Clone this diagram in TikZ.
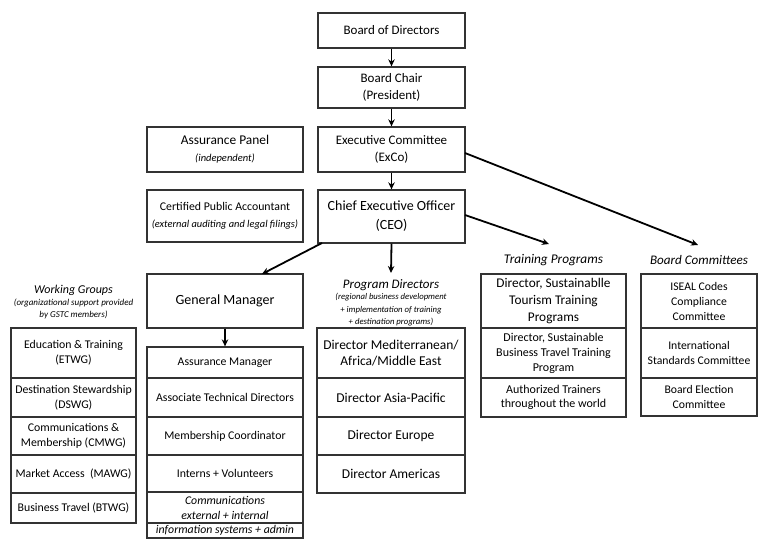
\documentclass[tikz,border=0pt]{standalone}
\usepackage{fontspec}
\setmainfont{Carlito}
\usetikzlibrary{arrows.meta}
\newcommand{\fs}[2]{\fontsize{#1}{#2}\selectfont}
\begin{document}
\begin{tikzpicture}[x=1pt,y=-1pt,
  box/.style={draw=black!80,line width=1.3pt,rectangle,align=center,inner sep=0pt,font=\fs{13}{17}},
  rowbox/.style={box,font=\fs{11.8}{15}},
  ttl/.style={align=center,font=\fs{13}{15}\itshape,inner sep=1pt},
  sub/.style={align=center,font=\fs{9}{12}\itshape,inner sep=1pt},
  arr/.style={line width=1.8pt,-{Stealth[length=7pt,width=6.5pt]}}]
\useasboundingbox (0,0) rectangle (768,552);
% top column
\node[box,minimum width=147,minimum height=35] (bod) at (391.5,30.5) {Board of Directors};
\node[box,minimum width=147,minimum height=41] (chair) at (391.5,87.5) {Board Chair\\(President)};
\node[box,minimum width=147,minimum height=45] (exco) at (391.5,149.5) {Executive Committee\\(ExCo)};
\node[box,minimum width=147,minimum height=53,font=\fs{14}{19}] (ceo) at (391.5,216.5) {Chief Executive Officer\\(CEO)};
\node[box,minimum width=156,minimum height=45] (ap) at (225,149.5) {{\fs{13.4}{15}Assurance Panel}\\{\fs{10.5}{15}\itshape (independent)}};
\node[box,minimum width=156,minimum height=52] (cpa) at (225,216) {{\fs{11.8}{17}Certified Public Accountant}\\{\fs{10.4}{17}\itshape (external auditing and legal filings)}};
% general manager
\node[box,minimum width=156,minimum height=54,font=\fs{14}{16}] (gm) at (225,301) {General Manager};
\node[rowbox,minimum width=156,minimum height=31] (gm1) at (225,362.5) {Assurance Manager};
\node[rowbox,minimum width=156,minimum height=39] (gm2) at (225,397.5) {Associate Technical Directors};
\node[rowbox,minimum width=156,minimum height=38] (gm3) at (225,436) {Membership Coordinator};
\node[rowbox,minimum width=156,minimum height=37] (gm4) at (225,473.5) {Interns + Volunteers};
\node[rowbox,minimum width=156,minimum height=31,font=\fs{11.8}{15}\itshape] (gm5) at (225,507.5) {Communications\\external + internal};
\node[rowbox,minimum width=156,minimum height=15,font=\fs{11.8}{14}\itshape] (gm6) at (225,530.5) {information systems + admin};
% working groups
\node[ttl,font=\fs{12}{14}\itshape] (wgt) at (73.5,290) {Working Groups};
\node[sub] (wgs) at (73.5,309) {(organizational support provided\\by GSTC members)};
\node[rowbox,minimum width=125,minimum height=50] (wg1) at (73.5,353) {Education \& Training\\(ETWG)};
\node[rowbox,minimum width=125,minimum height=39] (wg2) at (73.5,397.5) {Destination Stewardship\\(DSWG)};
\node[rowbox,minimum width=125,minimum height=38] (wg3) at (73.5,436) {Communications \&\\Membership (CMWG)};
\node[rowbox,minimum width=125,minimum height=38] (wg4) at (73.5,474) {Market Access\ \ (MAWG)};
\node[rowbox,minimum width=125,minimum height=30] (wg5) at (73.5,508) {Business Travel (BTWG)};
% program directors
\node[ttl] (pdt) at (391,285) {Program Directors};
\node[sub,font=\fs{8.7}{12.5}\itshape] (pds) at (391,310) {(regional business development\\+ implementation of training\\+ destination programs)};
\node[rowbox,minimum width=148,minimum height=50,font=\fs{13.5}{16}] (pd1) at (391,353) {Director Mediterranean/\\Africa/Middle East};
\node[rowbox,minimum width=148,minimum height=39,font=\fs{13.5}{16}] (pd2) at (391,397.5) {Director Asia-Pacific};
\node[rowbox,minimum width=148,minimum height=38,font=\fs{13.5}{16}] (pd3) at (391,436) {Director Europe};
\node[rowbox,minimum width=148,minimum height=38,font=\fs{13.5}{16}] (pd4) at (391,474) {Director Americas};
% training programs
\node[ttl,font=\fs{13.3}{15}\itshape] (tpt) at (553.5,260) {Training Programs};
\node[rowbox,minimum width=145,minimum height=54,font=\fs{13.3}{17}] (tp1) at (553.5,301) {Director, Sustainablle\\Tourism Training\\Programs};
\node[rowbox,minimum width=145,minimum height=50,font=\fs{12}{15}] (tp2) at (553.5,353) {Director, Sustainable\\Business Travel Training\\Program};
\node[rowbox,minimum width=145,minimum height=39,font=\fs{12}{14.5}] (tp3) at (553.5,397.5) {Authorized Trainers\\throughout the world};
% board committees
\node[ttl,font=\fs{13.1}{15}\itshape] (bct) at (699,260) {Board Committees};
\node[rowbox,minimum width=116,minimum height=54,font=\fs{11.7}{15}] (bc1) at (699,301) {ISEAL Codes\\Compliance\\Committee};
\node[rowbox,minimum width=116,minimum height=50,font=\fs{11.7}{15}] (bc2) at (699,353) {International\\Standards Committee};
\node[rowbox,minimum width=116,minimum height=38,font=\fs{11.7}{15}] (bc3) at (699,397) {Board Election\\Committee};
% arrows
\coordinate (gmin) at (262,274);
\coordinate (ceoout) at (322,243);
\coordinate (pdin) at (391,273);
\coordinate (excoout) at (465,153);
\coordinate (bcin) at (698,245);
\coordinate (ceoout2) at (465,215);
\coordinate (tpin) at (549,244);
\draw[arr] (bod) -- (chair);
\draw[arr] (chair) -- (exco);
\draw[arr] (exco) -- (ceo);
\draw[arr] (ceo.south) -- (pdin);
\draw[arr] (ceoout) -- (gmin);
\draw[arr] (gm) -- (gm1);
\draw[arr] (excoout) -- (bcin);
\draw[arr] (ceoout2) -- (tpin);
\end{tikzpicture}
\end{document}
